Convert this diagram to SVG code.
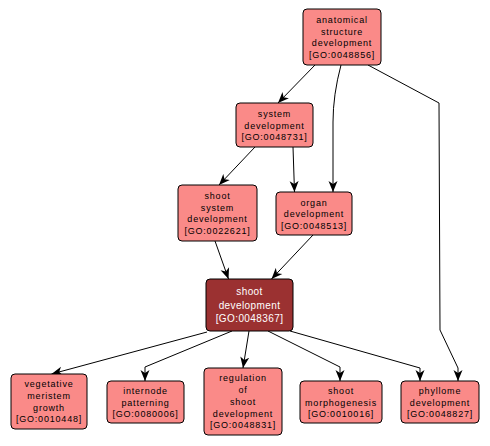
<svg xmlns="http://www.w3.org/2000/svg" width="490" height="446" viewBox="0 0 490 446">
<style>
.n rect{fill:#fa8a88;stroke:#000;stroke-width:1}
.n.d rect{fill:#9b3131}
.n text{font-family:"Liberation Sans",Arial,sans-serif;font-size:9px;letter-spacing:0.8px;text-anchor:middle;fill:#000}
.n.d text{fill:#fff;font-size:10px;letter-spacing:0.4px}
#edges path{fill:none;stroke:#000;stroke-width:1;marker-end:url(#a)}
</style>
<defs>
<marker id="a" markerUnits="userSpaceOnUse" markerWidth="12" markerHeight="10" viewBox="0 0 12 10" refX="11" refY="5" orient="auto">
<path d="M0,0.5 L11,5 L0,9.5 L3,5 z" fill="#000"/>
</marker>
</defs>
<rect width="490" height="446" fill="#fff"/>
<g id="edges">
<path d="M315,65 L278,103"/>
<path d="M341,65 Q333,95 333,122 L333,192"/>
<path d="M368,65 L439,103 L440,330 L458,368 L458,381"/>
<path d="M255,147 L219,185"/>
<path d="M293,147 L294.5,192"/>
<path d="M215,241 L228.5,279"/>
<path d="M313,235 L271.5,279"/>
<path d="M207,332 L51.5,374"/>
<path d="M232,331 L145,367 L145,381"/>
<path d="M249,331 L243,368"/>
<path d="M268,331 L340,367 L340,381"/>
<path d="M290,331 L420,368 L420,381"/>
</g>
<g id="GO0048856" class="n"><rect x="303" y="9" width="78" height="56" rx="4"/>
<text x="342" y="22.8">anatomical</text><text x="342" y="34.5">structure</text><text x="342" y="46.2">development</text><text x="342" y="57.9">[GO:0048856]</text></g>
<g id="GO0048731" class="n"><rect x="236" y="103" width="77" height="44" rx="4"/>
<text x="274.5" y="117">system</text><text x="274.5" y="128.7">development</text><text x="274.5" y="140.4">[GO:0048731]</text></g>
<g id="GO0022621" class="n"><rect x="178" y="185" width="79" height="56" rx="4"/>
<text x="217.5" y="198.8">shoot</text><text x="217.5" y="210.5">system</text><text x="217.5" y="222.2">development</text><text x="217.5" y="233.9">[GO:0022621]</text></g>
<g id="GO0048513" class="n"><rect x="276" y="192" width="76" height="43" rx="4"/>
<text x="314" y="205.5">organ</text><text x="314" y="217.2">development</text><text x="314" y="228.9">[GO:0048513]</text></g>
<g id="GO0048367" class="n d"><rect x="206" y="279" width="87" height="52" rx="4"/>
<text x="249.5" y="295.3">shoot</text><text x="249.5" y="308.6">development</text><text x="249.5" y="321.9">[GO:0048367]</text></g>
<g id="GO0010448" class="n"><rect x="11" y="374" width="76" height="55" rx="4"/>
<text x="49" y="387.3">vegetative</text><text x="49" y="399">meristem</text><text x="49" y="410.7">growth</text><text x="49" y="422.4">[GO:0010448]</text></g>
<g id="GO0080006" class="n"><rect x="107" y="381" width="77" height="42" rx="4"/>
<text x="145.5" y="394">internode</text><text x="145.5" y="405.7">patterning</text><text x="145.5" y="417.4">[GO:0080006]</text></g>
<g id="GO0048831" class="n"><rect x="204" y="368" width="78" height="67" rx="4"/>
<text x="243" y="381.4">regulation</text><text x="243" y="393.1">of</text><text x="243" y="404.8">shoot</text><text x="243" y="416.5">development</text><text x="243" y="428.2">[GO:0048831]</text></g>
<g id="GO0010016" class="n"><rect x="300" y="381" width="82" height="42" rx="4"/>
<text x="341" y="394">shoot</text><text x="341" y="405.7">morphogenesis</text><text x="341" y="417.4">[GO:0010016]</text></g>
<g id="GO0048827" class="n"><rect x="401" y="381" width="78" height="42" rx="4"/>
<text x="440" y="394">phyllome</text><text x="440" y="405.7">development</text><text x="440" y="417.4">[GO:0048827]</text></g>
</svg>
